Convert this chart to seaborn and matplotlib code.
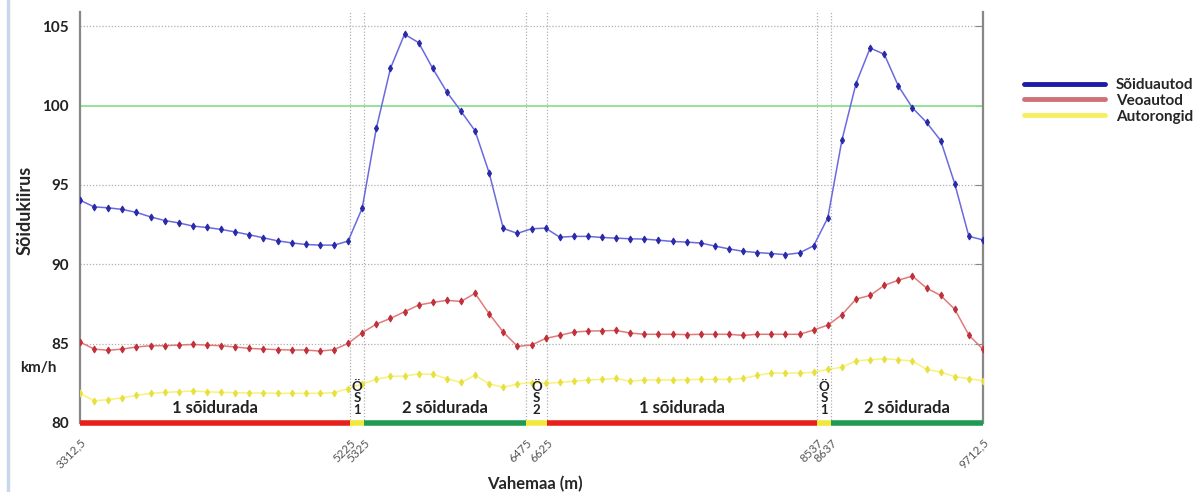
import pandas as pd
import seaborn as sns
import matplotlib.pyplot as plt
from matplotlib.lines import Line2D

# distance of each measuring point (m)
distance = [3312.5, 3412.5, 3512.5, 3612.5, 3712.5, 3812.5, 3912.5, 4012.5, 4112.5, 4212.5,
            4312.5, 4412.5, 4512.5, 4612.5, 4712.5, 4812.5, 4912.5, 5012.5, 5112.5, 5212.5,
            5312.5, 5412.5, 5512.5, 5612.5, 5712.5, 5812.5, 5912.5, 6012.5, 6112.5, 6212.5,
            6312.5, 6412.5, 6512.5, 6612.5, 6712.5, 6812.5, 6912.5, 7012.5, 7112.5, 7212.5,
            7312.5, 7412.5, 7512.5, 7612.5, 7712.5, 7812.5, 7912.5, 8012.5, 8112.5, 8212.5,
            8312.5, 8412.5, 8512.5, 8612.5, 8712.5, 8812.5, 8912.5, 9012.5, 9112.5, 9212.5,
            9312.5, 9412.5, 9512.5, 9612.5, 9712.5]

soiduautod = [94.04, 93.62, 93.56, 93.46, 93.27, 92.99, 92.76, 92.61, 92.41, 92.32,
              92.20, 92.04, 91.86, 91.67, 91.48, 91.35, 91.25, 91.21, 91.21, 91.46,
              93.54, 98.56, 102.34, 104.50, 103.97, 102.34, 100.86, 99.65, 98.41, 95.76,
              92.26, 91.95, 92.24, 92.28, 91.71, 91.76, 91.76, 91.69, 91.65, 91.61,
              91.59, 91.52, 91.44, 91.40, 91.34, 91.15, 90.97, 90.82, 90.74, 90.68,
              90.61, 90.72, 91.17, 92.93, 97.82, 101.39, 103.63, 103.24, 101.24, 99.86,
              98.94, 97.80, 95.07, 91.76, 91.54]

veoautod = [85.10, 84.66, 84.58, 84.66, 84.79, 84.87, 84.87, 84.91, 84.95, 84.91,
            84.87, 84.79, 84.70, 84.66, 84.62, 84.60, 84.60, 84.53, 84.62, 85.02,
            85.69, 86.23, 86.59, 87.01, 87.43, 87.60, 87.73, 87.66, 88.17, 86.88,
            85.73, 84.83, 84.91, 85.33, 85.52, 85.73, 85.79, 85.81, 85.83, 85.67,
            85.59, 85.59, 85.59, 85.57, 85.59, 85.59, 85.59, 85.52, 85.59, 85.59,
            85.59, 85.59, 85.86, 86.17, 86.82, 87.81, 88.04, 88.67, 89.00, 89.26,
            88.50, 88.04, 87.16, 85.54, 84.64]

autorongid = [81.87, 81.40, 81.47, 81.59, 81.74, 81.87, 81.93, 81.97, 82.02, 81.97,
              81.93, 81.91, 81.89, 81.89, 81.87, 81.87, 81.87, 81.87, 81.91, 82.16,
              82.46, 82.75, 82.94, 82.96, 83.09, 83.07, 82.79, 82.56, 83.00, 82.47,
              82.25, 82.46, 82.54, 82.50, 82.56, 82.63, 82.71, 82.75, 82.81, 82.63,
              82.71, 82.73, 82.71, 82.73, 82.75, 82.75, 82.75, 82.81, 83.00, 83.15,
              83.14, 83.15, 83.19, 83.38, 83.51, 83.92, 83.99, 84.05, 83.99, 83.90,
              83.38, 83.21, 82.92, 82.79, 82.66]

# road sections
bounds = [3312.5, 5225, 5325, 6475, 6625, 8537, 8637, 9712.5]
section_labels = ["1 sõidurada", "Ö\nS\n1", "2 sõidurada", "Ö\nS\n2", "1 sõidurada", "Ö\nS\n1", "2 sõidurada"]
section_colors = ["#e8201c", "#f2e83a", "#1f9a55", "#f2e83a", "#e8201c", "#f2e83a", "#1f9a55"]
xtick_labels = ["3312,5", "5225", "5325", "6475", "6625", "8537", "8637", "9712,5"]

series = ["Sõiduautod", "Veoautod", "Autorongid"]
line_colors = ["#6a6ae0", "#e27a7a", "#f6f27a"]
marker_colors = ["#2a2aa8", "#c0303a", "#e8e040"]
legend_colors = ["#1c1ca8", "#d07078", "#f4f060"]

df = pd.DataFrame({"Vahemaa": distance * 3,
                   "kiirus": soiduautod + veoautod + autorongid,
                   "liik": [series[0]] * len(distance) + [series[1]] * len(distance) + [series[2]] * len(distance)})

sns.set_style("white")
plt.rcParams['font.family'] = ['Lato', 'DejaVu Sans']

fig = plt.figure(figsize=(12, 4.92), dpi=100)
ax = fig.add_axes([80/1200, 69/492, 903/1200, 411/492])

# grid + reference line
for yv in [85, 90, 95, 105]:
    ax.axhline(yv, color="#b0b0b0", lw=0.9, ls=(0, (1, 1.5)), zorder=0)
ax.axhline(100, color="#8ee08e", lw=1.3, zorder=1)
for xv in bounds[1:-1]:
    ax.axvline(xv, color="#b0b0b0", lw=0.9, ls=(0, (1, 1.5)), zorder=0)

for name, lc, mc in zip(series, line_colors, marker_colors):
    sub = df[df["liik"] == name]
    sns.lineplot(data=sub, x="Vahemaa", y="kiirus", ax=ax, color=lc, lw=1.1,
                 marker="d", markersize=3.5, markerfacecolor=mc, markeredgecolor=mc,
                 legend=False, zorder=3)

# section bars on the bottom
for i, col in enumerate(section_colors):
    ax.hlines(80, bounds[i], bounds[i + 1], color=col, lw=4, zorder=5, clip_on=False)
    mid = (bounds[i] + bounds[i + 1]) / 2
    if "\n" in section_labels[i]:
        ax.text(mid, 80.45, section_labels[i], ha="center", va="bottom", fontsize=9.5,
                fontweight="bold", linespacing=0.95, color="#222222")
    else:
        ax.text(mid, 80.45, section_labels[i], ha="center", va="bottom", fontsize=12,
                fontweight="bold", color="#222222")

ax.set_xlim(bounds[0], bounds[-1])
ax.set_ylim(80, 105.9)
ax.set_xticks(bounds)
ax.set_xticklabels(xtick_labels, rotation=45, ha="right", rotation_mode="anchor",
                   fontsize=8.5, color="#555555")
ax.set_yticks([80, 85, 90, 95, 100, 105])
ax.set_yticklabels(["80", "85", "90", "95", "100", "105"], fontsize=11, fontweight="bold", color="#222222")
ax.tick_params(axis="y", direction="in", length=6, color="#888888", right=True, pad=8)
ax.tick_params(axis="x", length=0, pad=10)
ax.set_xlabel("")
ax.set_ylabel("")

for side in ["top", "bottom"]:
    ax.spines[side].set_visible(False)
for side in ["left", "right"]:
    ax.spines[side].set_color("#888888")
    ax.spines[side].set_linewidth(1.6)

fig.text(25/1200, 1 - 210/492, "Sõidukiirus", rotation=90, ha="center", va="center",
         fontsize=13, fontweight="bold")
fig.text(38/1200, 1 - 368/492, "km/h", ha="center", va="center", fontsize=11, fontweight="bold")
fig.text(535/1200, 1 - 484/492, "Vahemaa (m)", ha="center", va="center", fontsize=12, fontweight="bold")

# thin frame line on the far left
fig.add_artist(Line2D([8/1200, 8/1200], [0, 1], color="#c8d8ec", lw=2.5))

handles = [Line2D([0], [0], color=c, lw=3.5) for c in legend_colors]
leg = fig.legend(handles, series, loc="upper left", bbox_to_anchor=(1024/1200, 1 - 78/492),
                 frameon=False, handlelength=5.3, labelspacing=0.12, handletextpad=0.7,
                 borderaxespad=0, borderpad=0, prop={"weight": "bold", "size": 11})

fig.savefig("out.png", dpi=100)
